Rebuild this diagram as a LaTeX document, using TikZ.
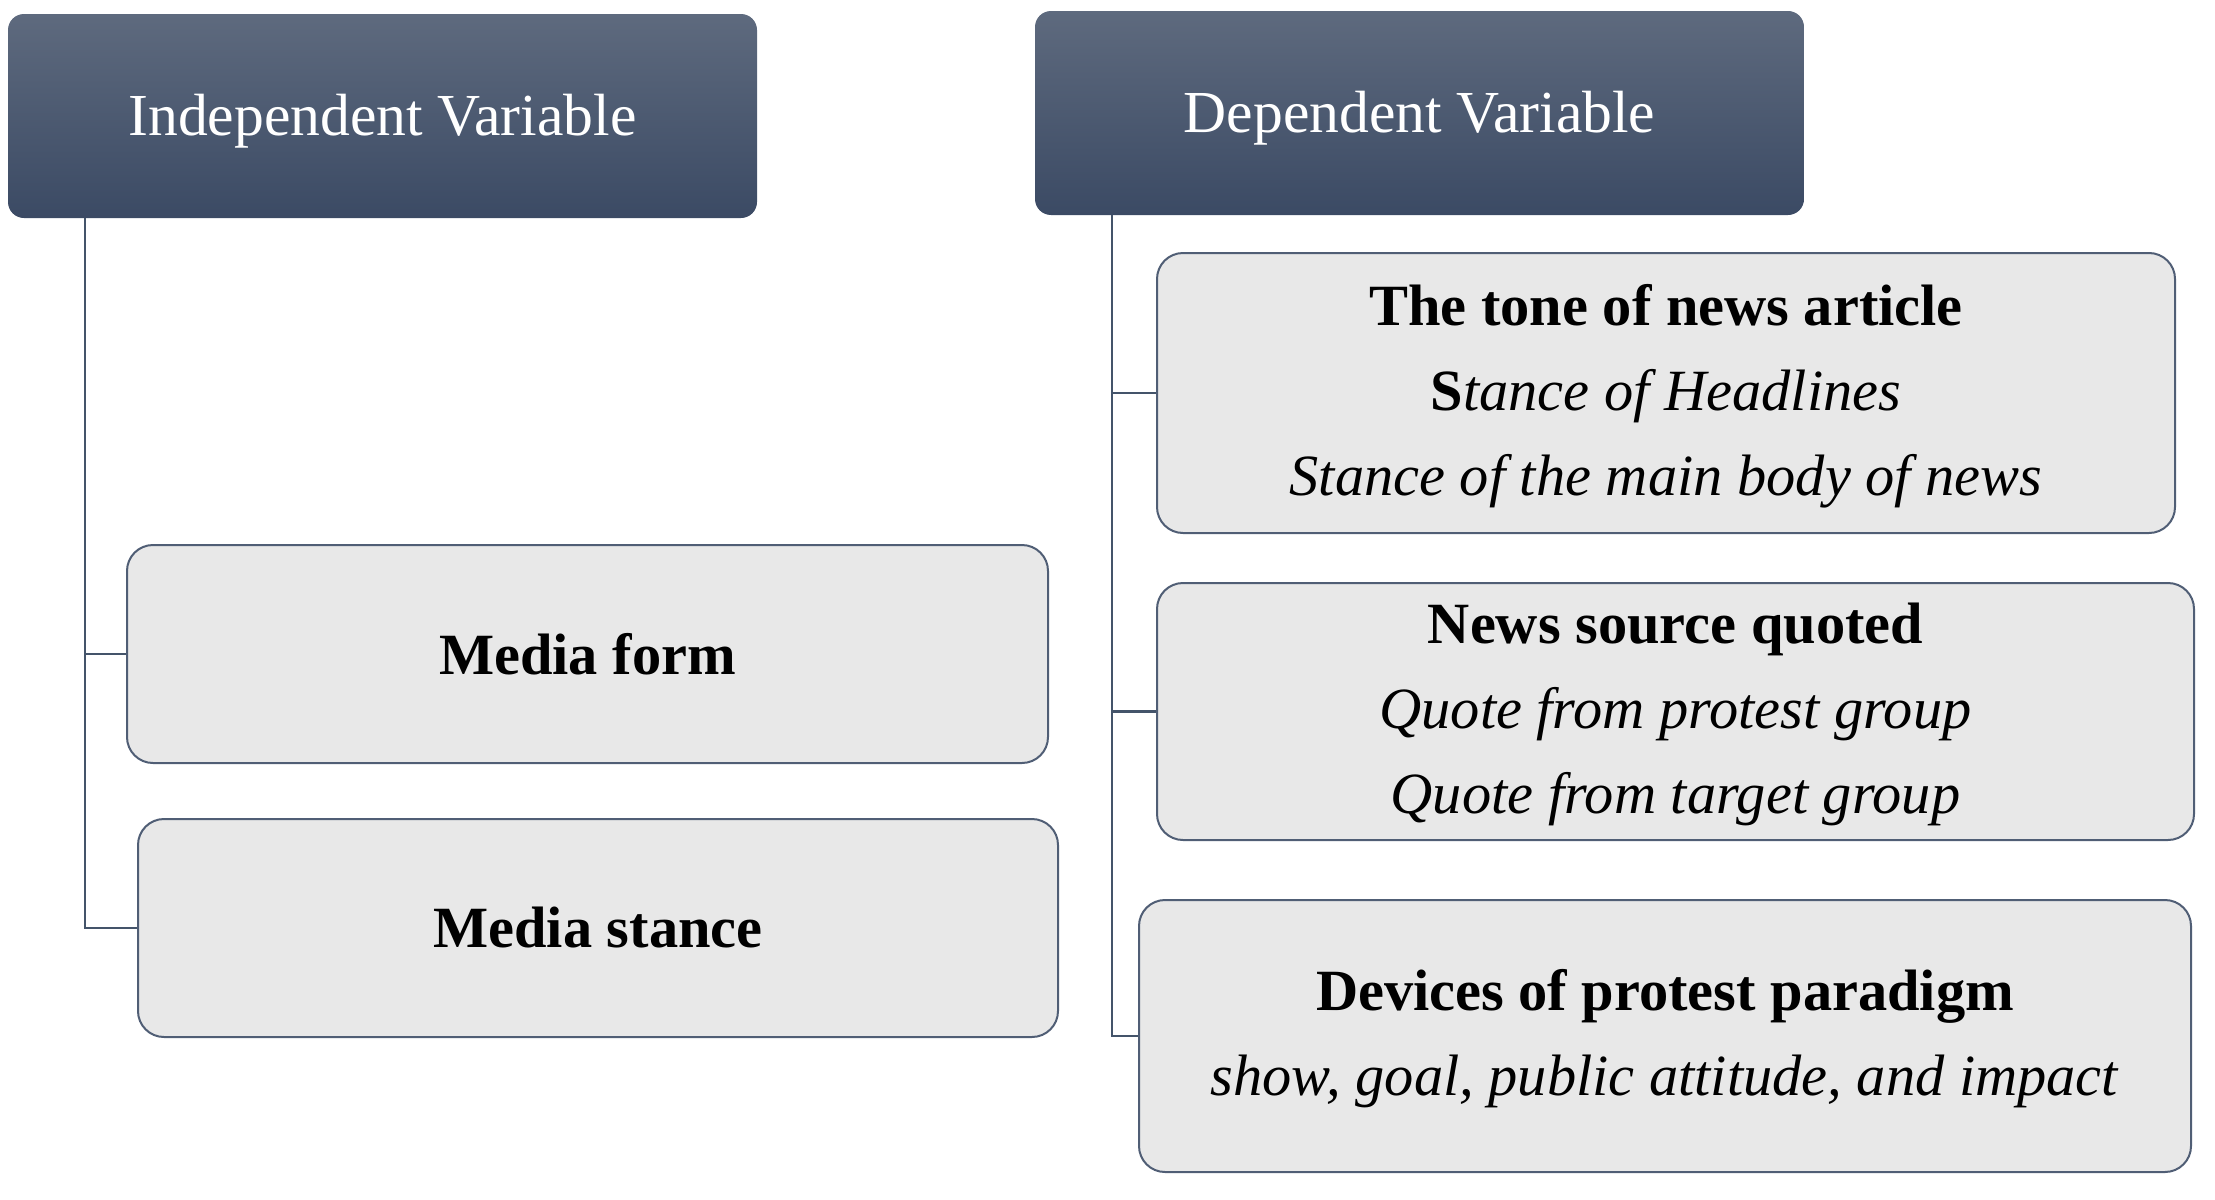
\documentclass[tikz,border=0pt]{standalone}
\usepackage{fontspec}
\setmainfont{Liberation Serif}
\definecolor{hdtop}{RGB}{94,106,126}
\definecolor{hdbot}{RGB}{59,74,100}
\definecolor{boxfill}{RGB}{232,232,232}
\definecolor{boxline}{RGB}{80,94,117}
\definecolor{conn}{RGB}{68,84,106}
\newcommand{\lowr}[2]{\raisebox{-#1}[\height][\depth]{#2}}
\begin{document}
\begin{tikzpicture}[x=0.5pt,y=-0.5pt,
  header/.style={rectangle, rounded corners=8pt, top color=hdtop, bottom color=hdbot, draw=none,
    text=white, inner sep=0pt, align=center, font=\fontsize{29.8}{42.5}\selectfont},
  itembox/.style={rectangle, rounded corners=13pt, fill=boxfill, draw=boxline, line width=1pt,
    inner sep=0pt, align=center, font=\fontsize{29.2}{42.5}\selectfont},
  link/.style={draw=conn, line width=1.2pt}]
\useasboundingbox (0,0) rectangle (2215,1199);
\node[header, minimum width=374.5pt, minimum height=102pt] (iv) at (382.5,116) {\lowr{2.5pt}{Independent Variable}};
\node[header, minimum width=384.5pt, minimum height=102pt] (dv) at (1419.5,113) {\lowr{2.5pt}{Dependent Variable}};
\node[itembox, minimum width=460.5pt, minimum height=109pt] (mf) at (587.5,654) {\textbf{Media form}};
\node[itembox, minimum width=460pt, minimum height=109pt] (ms) at (598,928) {\textbf{Media stance}};
\node[itembox, minimum width=509pt, minimum height=140pt] (tone) at (1666,393)
  {\lowr{1.5pt}{\parbox{500pt}{\centering\textbf{The tone of news article}\\ \textbf{S}\textit{tance of Headlines}\\ \textit{Stance of the main body of news}}}};
\node[itembox, minimum width=518.5pt, minimum height=128.5pt] (news) at (1675.5,711.5)
  {\lowr{1.5pt}{\parbox{510pt}{\centering\textbf{News source quoted}\\ \textit{Quote from protest group}\\ \textit{Quote from target group}}}};
\node[itembox, minimum width=526pt, minimum height=136pt] (dev) at (1665,1036)
  {\lowr{1.5pt}{\parbox{520pt}{\centering\textbf{Devices of protest paradigm}\\ \textit{show, goal, public attitude, and impact}}}};
\coordinate (ivt) at (85,218);
\coordinate (dvt) at (1112,215);
\draw[link] (ivt) |- (mf.west);
\draw[link] (ivt) |- (ms.west);
\draw[link] (dvt) |- (tone.west);
\draw[link] (dvt) |- (news.west);
\draw[link] (dvt) |- (dev.west);
\end{tikzpicture}
\end{document}
